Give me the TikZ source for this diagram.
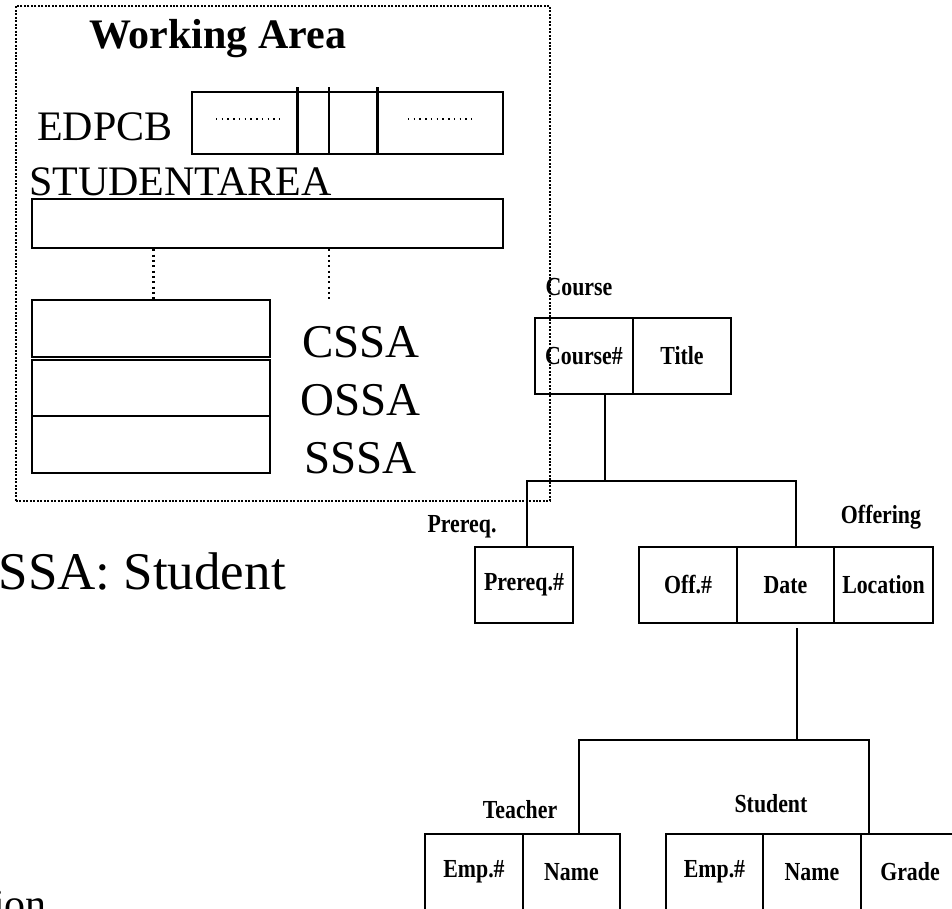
\documentclass[tikz,border=0pt]{standalone}
\usepackage{fontspec}
\setmainfont{Liberation Serif}
\newfontfamily\narrowbold[FakeStretch=0.84]{Liberation Serif Bold}
\newcommand\pxfont[1]{\fontsize{#1}{#1}\selectfont}

\tikzset{
  area/.style={draw, line width=2pt, dash pattern=on 1.5pt off 1.1pt, inner sep=0pt},
  bigtext/.style={inner sep=0pt, font=\pxfont{31.5pt}},
  stacktext/.style={inner sep=0pt, font=\pxfont{35.25pt}},
  bar/.style={draw, line width=1.9pt, inner sep=0pt},
  finedots/.style={line width=1.1pt, dash pattern=on 1.1pt off 3.2pt},
  linkdots/.style={line width=1.6pt, dash pattern=on 1.6pt off 2.4pt},
  cell/.style={draw, line width=1.6pt, inner sep=0pt, minimum height=56.5pt,
    font=\narrowbold\pxfont{19.5pt}},
  seglabel/.style={inner sep=0pt, font=\narrowbold\pxfont{19.5pt}},
  link/.style={line width=1.2pt},
}

\begin{document}
\begin{tikzpicture}[x=0.75pt, y=-0.75pt]
\useasboundingbox (0,0) rectangle (952,908);
\clip (0,0) rectangle (952,908);

% ---------- working storage ----------
\node[area, minimum width=400.5pt, minimum height=371.25pt] (wa) at (283,253.5) {};
\node[anchor=base west, inner sep=0pt, font=\bfseries\pxfont{31.5pt}] (watitle) at (89,48) {Working Area};

\node[bigtext, anchor=base west] (edpcbl) at (37,140) {EDPCB};
\node[bar, minimum width=233.25pt, minimum height=46.5pt] (edpcb) at (347.5,123) {};
\coordinate (d1) at (297.5,87);
\coordinate (d2) at (329,87);
\coordinate (d3) at (377.5,87);
\foreach \d in {d1,d2,d3}
  \draw[line width=1.9pt] (\d) -- (\d |- edpcb.south);
\draw[finedots] (216,119) -- (280,119);
\draw[finedots] (408,119) -- (472,119);

\node[bigtext, anchor=base west] (studl) at (29,195) {STUDENTAREA};
\node[bar, minimum width=353.25pt, minimum height=36.75pt] (stud) at (267.5,223.5) {};

\node[bar, minimum width=178.5pt, minimum height=42.75pt] (cssa) at (151,328.5) {};
\node[bar, minimum width=178.5pt, minimum height=42pt] (ossa) at (151,388) {};
\node[bar, minimum width=178.5pt, minimum height=42.75pt] (sssa) at (151,444.5) {};
\draw[linkdots] (153.5,0 |- stud.south) -- (153.5,0 |- cssa.north);
\draw[linkdots] (329,0 |- stud.south) -- (329,0 |- cssa.north);

\node[stacktext, anchor=base west] (cssal) at (302,357) {CSSA};
\node[stacktext, anchor=base west] (ossal) at (300,415) {OSSA};
\node[stacktext, anchor=base west] (sssal) at (304,473) {SSSA};

% ---------- body text ----------
\node[inner sep=0pt, anchor=base east, font=\pxfont{39.75pt}] (sdef) at (286,589) {SSA: Student};
\node[inner sep=0pt, anchor=base west, font=\pxfont{31.5pt}] (tail) at (-7,918) {ion};

% ---------- hierarchy ----------
\node[seglabel] (lcourse) at (579,287) {Course};
\node[cell, minimum width=73.5pt] (cnum) at (584,356) {Course\#};
\node[cell, minimum width=73.5pt] (title) at (682,356) {Title};

\node[seglabel] (lprereq) at (462,527) {Prereq.};
\node[cell, minimum width=73.5pt] (pnum) at (524,585) {Prereq.\#};

\node[seglabel] (loff) at (881,517) {Offering};
\node[cell, minimum width=73.5pt] (onum) at (688,585) {Off.\#};
\node[cell, minimum width=72.75pt] (date) at (785.5,585) {Date};
\node[cell, minimum width=74.25pt] (loc) at (883.5,585) {Location};

\node[seglabel] (lteach) at (520,810) {Teacher};
\node[cell, minimum width=73.5pt] (tnum) at (474,872) {Emp.\#};
\node[cell, minimum width=72.75pt] (tname) at (571.5,872) {Name};

\node[seglabel] (lstud) at (771,804) {Student};
\node[cell, minimum width=72.75pt] (snum) at (714.5,872) {Emp.\#};
\node[cell, minimum width=73.5pt] (sname) at (812,872) {Name};
\node[cell, minimum width=73.5pt] (grade) at (910,872) {Grade};

% connectors
\coordinate (j1) at (605,481);
\coordinate (j1l) at (527,481);
\coordinate (j1r) at (796,481);
\draw[link] (j1 |- cnum.south) -- (j1);
\draw[link] (j1l |- pnum.north) -- (j1l) -- (j1r) -- (j1r |- date.north);

\coordinate (j2t) at (797,628);
\coordinate (j2) at (797,740);
\coordinate (j2l) at (579,740);
\coordinate (j2r) at (869,740);
\draw[link] (j2t) -- (j2);
\draw[link] (j2l |- tname.north) -- (j2l) -- (j2r) -- (j2r |- sname.north);
\end{tikzpicture}
\end{document}
